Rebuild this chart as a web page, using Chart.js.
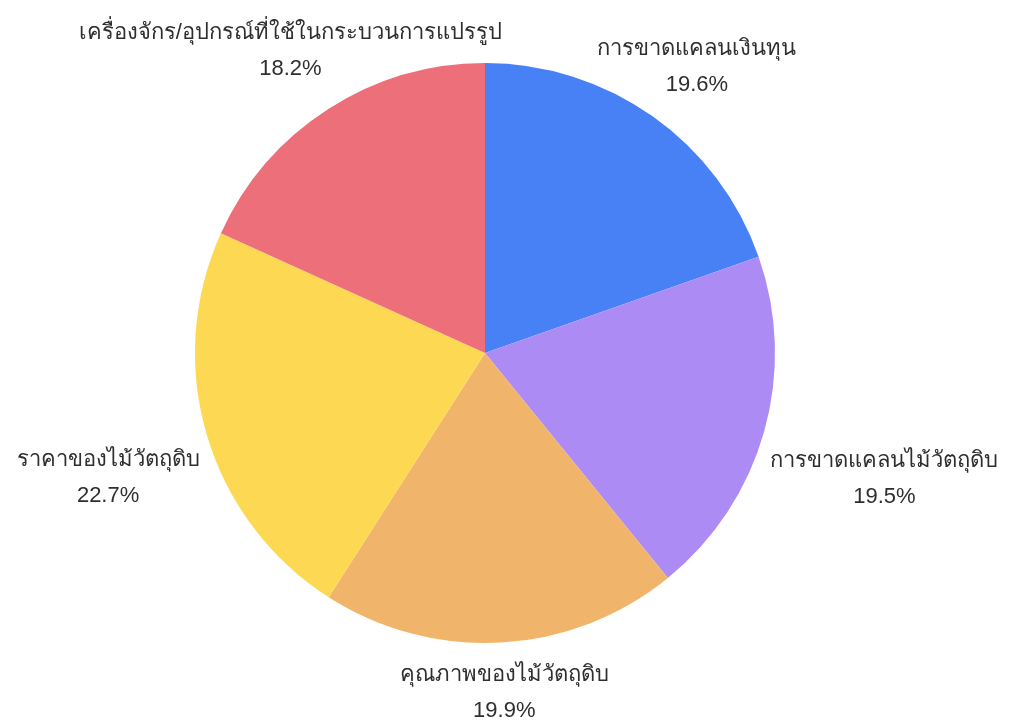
<!DOCTYPE html>
<html>
<head>
<meta charset="utf-8">
<script src="https://cdn.jsdelivr.net/npm/chart.js@4/dist/chart.umd.min.js"></script>
<style>
  html, body { margin: 0; padding: 0; background: #fff; }
  #wrap { width: 1014px; height: 722px; }
</style>
</head>
<body>
<div id="wrap"><canvas id="pieChart" width="1014" height="722"></canvas></div>
<script>
const categories = [
  "การขาดแคลนเงินทุน",
  "การขาดแคลนไม้วัตถุดิบ",
  "คุณภาพของไม้วัตถุดิบ",
  "ราคาของไม้วัตถุดิบ",
  "เครื่องจักร/อุปกรณ์ที่ใช้ในกระบวนการแปรรูป"
];
const shares = [19.6, 19.5, 19.9, 22.7, 18.2];
const sliceColors = ["#4880f5", "#ad8bf4", "#f0b56a", "#fdd953", "#ed6f7a"];

const labelFont = '22px "Liberation Sans", "Noto Sans", sans-serif';
const lineGap = 36;

// draws the two-line label (name + percent) outside each slice
const outsideLabels = {
  id: "outsideLabels",
  afterDatasetsDraw(chart) {
    const ctx = chart.ctx;
    const meta = chart.getDatasetMeta(0);
    const W = chart.width, H = chart.height;
    ctx.save();
    ctx.font = labelFont;
    ctx.fillStyle = "#2e2e2e";
    ctx.textAlign = "center";
    ctx.textBaseline = "middle";
    meta.data.forEach((arc, i) => {
      const p = arc.getProps(["x", "y", "startAngle", "endAngle", "outerRadius"], true);
      const mid = (p.startAngle + p.endAngle) / 2;
      const dx = Math.cos(mid), dy = Math.sin(mid);
      const pct = shares[i].toFixed(1) + "%";
      const w = Math.max(ctx.measureText(categories[i]).width, ctx.measureText(pct).width);
      const h = 54;
      const ext = Math.sqrt(Math.pow(dx * w / 2, 2) + Math.pow(dy * h / 2, 2));
      const d = p.outerRadius + 15 + ext;
      let lx = p.x + dx * d;
      let ly = p.y + dy * d + 13;
      const top = 51, bottom = H - h / 2 - 2;
      if (ly < top || ly > bottom) {
        ly = Math.min(Math.max(ly, top), bottom);
        lx = p.x + (ly - p.y) * dx / dy;
      }
      lx = Math.min(Math.max(lx, w / 2 + 8), W - w / 2 - 8);
      ctx.fillText(categories[i], lx, ly - lineGap / 2);
      ctx.fillText(pct, lx, ly + lineGap / 2);
    });
    ctx.restore();
  }
};

new Chart(document.getElementById("pieChart").getContext("2d"), {
  type: "pie",
  data: {
    labels: categories,
    datasets: [
      {
        data: shares,
        backgroundColor: sliceColors,
        borderWidth: 0,
      },
    ],
  },
  options: {
    responsive: false,
    animation: false,
    layout: { padding: { top: 63, bottom: 79, left: 0, right: 44 } },
    plugins: {
      legend: { display: false },
      tooltip: { enabled: false },
    },
  },
  plugins: [outsideLabels],
});
</script>
</body>
</html>
